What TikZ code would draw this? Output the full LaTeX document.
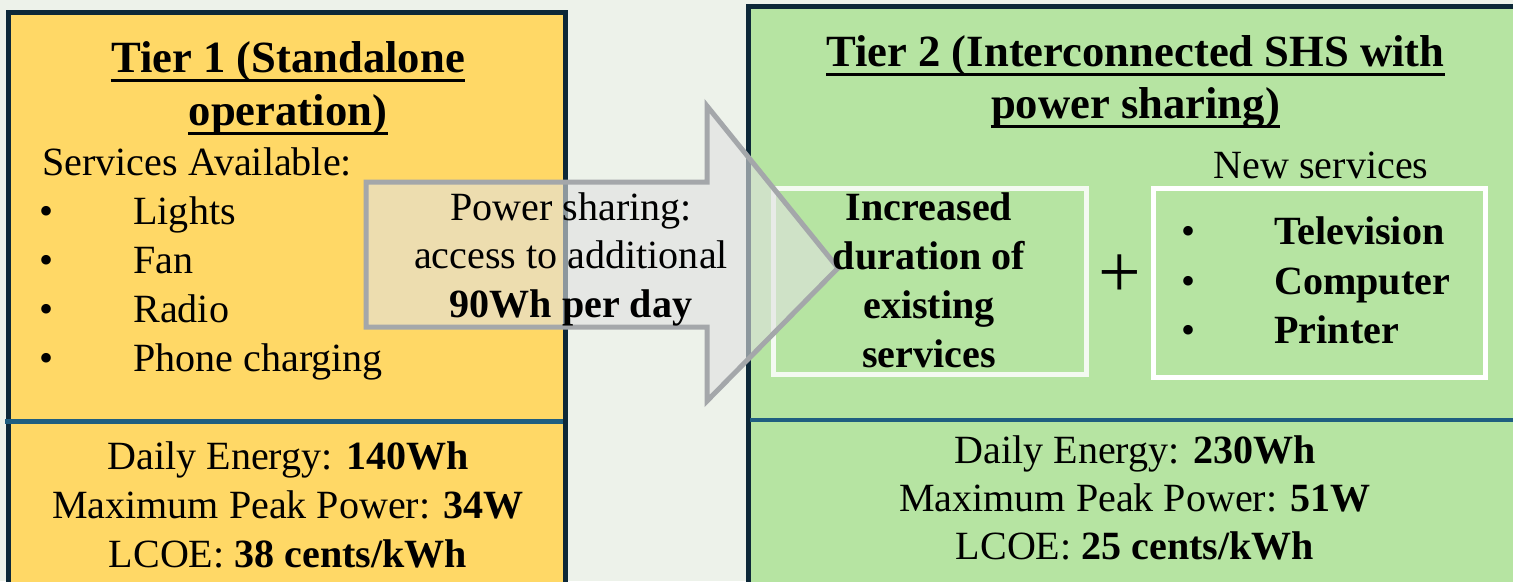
\documentclass[tikz,border=0pt]{standalone}
\usepackage{fontspec}
\setmainfont{Liberation Serif}
\definecolor{bgc}{RGB}{237,242,234}
\definecolor{tyel}{RGB}{255,216,102}
\definecolor{tgrn}{RGB}{182,228,162}
\definecolor{navy}{RGB}{13,40,56}
\definecolor{sepc}{RGB}{31,94,128}
\definecolor{arrg}{RGB}{164,167,170}
\definecolor{arrf}{RGB}{225,225,225}

\begin{document}
\begin{tikzpicture}[inner sep=0pt,
  tx/.style={anchor=base,font=\fontsize{22.8}{27}\selectfont},
  bx/.style={anchor=base,font=\fontsize{22.8}{27}\selectfont\bfseries},
  hd/.style={anchor=base,font=\fontsize{25.4}{30}\selectfont\bfseries}]
\useasboundingbox (0,0) rectangle (30.26,-11.62);
\fill[bgc] (0,0) rectangle (30.26,-11.62);
%
\draw[navy,line width=0.1cm,fill=tyel] (0.16,-0.24) rectangle (11.30,-11.72);
\draw[navy,line width=0.1cm,fill=tgrn] (14.96,-0.12) rectangle (30.60,-11.72);
\draw[sepc,line width=0.09cm] (0.10,-8.43) -- (11.26,-8.43) (15.00,-8.40) -- (30.60,-8.40);
\draw[white,line width=0.1cm,opacity=0.85] (15.46,-3.76) rectangle (21.72,-7.48);
\draw[white,line width=0.1cm] (23.06,-3.76) rectangle (29.70,-7.54);
%% big arrow
\draw[arrg,line width=0.1cm,fill=arrf,fill opacity=0.6] (7.32,-3.64) -- (14.14,-3.64) -- (14.14,-2.12)
 -- (16.76,-5.36) -- (14.14,-8.02) -- (14.14,-6.54) -- (7.32,-6.54) -- cycle;
%% Tier 1
\node[hd] (h1a) at (5.76,-1.44) {Tier 1 (Standalone};
\node[hd] (h1b) at (5.76,-2.50) {operation)};
\node[tx,anchor=base west] (sv) at (0.84,-3.50) {Services Available:};
\foreach \y/\w [count=\i] in {-4.48/Lights,-5.46/Fan,-6.44/Radio,-7.42/Phone charging}{
  \node[tx] (b\i) at (0.94,\y) {•};
  \node[tx,anchor=base west] (s\i) at (2.66,\y) {\w};
}
\node[tx] (e1) at (5.76,-9.38) {Daily Energy: \textbf{140Wh}};
\node[tx] (e2) at (5.76,-10.36) {Maximum Peak Power: \textbf{34W}};
\node[tx] (e3) at (5.76,-11.34) {LCOE: \textbf{38 cents/kWh}};
%
\node[tx] (p1) at (11.42,-4.40) {Power sharing:};
\node[tx] (p2) at (11.42,-5.36) {access to additional};
\node[bx] (p3) at (11.42,-6.34) {90Wh per day};
%% Tier 2
\node[hd] (h2a) at (22.71,-1.32) {Tier 2 (Interconnected SHS with};
\node[hd] (h2b) at (22.71,-2.36) {power sharing)};
\node[tx] (ns) at (26.42,-3.56) {New services};
\foreach \y/\w [count=\i] in {-4.40/Increased,-5.38/duration of,-6.36/existing,-7.34/services}
  \node[bx] (d\i) at (18.58,\y) {\w};
\node[font=\fontsize{43}{43}\selectfont] (pl) at (22.40,-5.52) {+};
\foreach \y/\w [count=\i] in {-4.88/Television,-5.88/Computer,-6.86/Printer}{
  \node[tx] (c\i) at (23.76,\y) {•};
  \node[bx,anchor=base west] (n\i) at (25.48,\y) {\w};
}
\node[tx] (f1) at (22.70,-9.26) {Daily Energy: \textbf{230Wh}};
\node[tx] (f2) at (22.70,-10.22) {Maximum Peak Power: \textbf{51W}};
\node[tx] (f3) at (22.70,-11.18) {LCOE: \textbf{25 cents/kWh}};
%% title underlines
\foreach \h in {h1a,h1b,h2a,h2b}
  \draw[line width=1.8pt] ([yshift=-4.6pt]\h.base west) -- ([yshift=-4.6pt]\h.base east);
\end{tikzpicture}
\end{document}
